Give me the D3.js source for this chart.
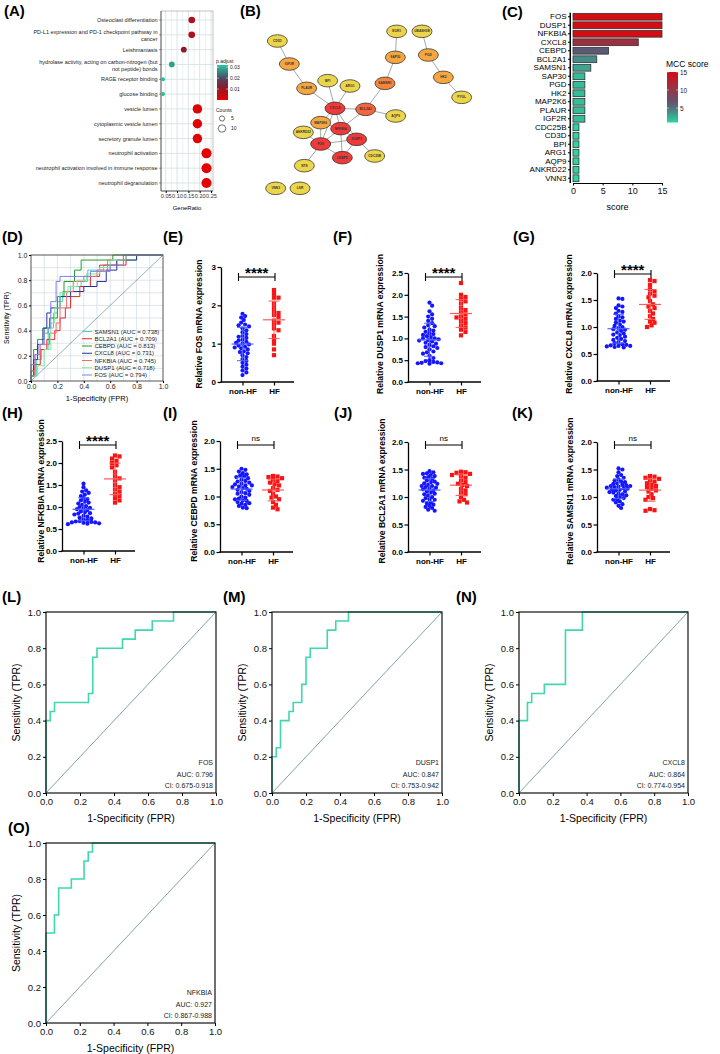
<!DOCTYPE html>
<html><head><meta charset="utf-8">
<script src="https://cdn.jsdelivr.net/npm/d3@7/dist/d3.min.js"></script>
<style>
html,body{margin:0;padding:0;background:#fff;}
svg{display:block;}
text{font-family:"Liberation Sans",Arial,Helvetica,sans-serif;}
</style></head>
<body>
<svg id="fig" width="720" height="1054" xmlns="http://www.w3.org/2000/svg"></svg>
<script>
// ================= DATA =================
// (A) enrichment
const goTerms = ["Osteoclast differentiation","PD-L1 expression and PD-1 checkpoint pathway in cancer","Leishmaniasis","hydrolase activity, acting on carbon-nitrogen (but not peptide) bonds","RAGE receptor binding","glucose binding","vesicle lumen","cytoplasmic vesicle lumen","secretory granule lumen","neutrophil activation","neutrophil activation involved in immune response","neutrophil degranulation"];
const goGeneRatio = [0.165,0.165,0.13,0.077,0.038,0.038,0.19,0.19,0.19,0.23,0.23,0.23];
const goCount = [8,8,6,6,3,3,16,16,16,18,18,18];
const goPadjust = [0.007,0.007,0.012,0.028,0.031,0.031,0.001,0.001,0.001,0.0004,0.0004,0.0004];
const goRatioTicks = [0.05,0.10,0.15,0.20,0.25];
const padjTicks = [0.01,0.02,0.03];
const countLegend = [5,10];

// (C) MCC scores
const mccGenes = ["FOS","DUSP1","NFKBIA","CXCL8","CEBPD","BCL2A1","SAMSN1","SAP30","PGD","HK2","MAP2K6","PLAUR","IGF2R","CDC25B","CD3D","BPI","ARG1","AQP9","ANKRD22","VNN3"];
const mccScore = [15,15,15,11,6,4,3,2,2,2,2,2,2,1,1,1,1,1,1,1];
const mccTicks = [0,5,10,15];
const mccLegendTicks = [5,10,15];

// (B) PPI network (layout units of the original network image)
const netGenes = ["CD3D","IGF2R","PLAUR","BPI","ARG1","CXCL8","BCL2A1","SAMSN1","SAP30","EGR1","UBASH3B","PGD","HK2","PYGL","AQP9","MAP2K6","NFKBIA","ANKRD22","FOS","DUSP1","CEBPD","CDC25B","NTS","VNN3","LSR"];
const netLayoutX = [112,148,200,263,330,285,377,435,466,470,546,565,610,665,467,242,302,190,242,350,307,404,193,107,180];
const netLayoutY = [123,192,265,242,258,325,328,250,172,94,94,165,232,292,348,368,386,397,432,418,473,468,497,565,565];
const netEdges = [["CD3D","IGF2R"],["IGF2R","PLAUR"],["PLAUR","CXCL8"],["BPI","CXCL8"],["ARG1","CXCL8"],["EGR1","SAP30"],["SAP30","SAMSN1"],["SAMSN1","BCL2A1"],["UBASH3B","PGD"],["PGD","HK2"],["HK2","PYGL"],["BCL2A1","AQP9"],["CXCL8","BCL2A1"],["CXCL8","MAP2K6"],["CXCL8","NFKBIA"],["CXCL8","FOS"],["CXCL8","DUSP1"],["BCL2A1","NFKBIA"],["MAP2K6","FOS"],["MAP2K6","NFKBIA"],["ANKRD22","FOS"],["NFKBIA","FOS"],["NFKBIA","DUSP1"],["NFKBIA","CEBPD"],["FOS","DUSP1"],["FOS","CEBPD"],["DUSP1","CEBPD"],["DUSP1","CDC25B"],["FOS","NTS"]];

// (D) multi-gene ROC curves [FPR, TPR]
const rocMultiGenes = ["SAMSN1","BCL2A1","CEBPD","CXCL8","NFKBIA","DUSP1","FOS"];
const rocMultiAUC = [0.738,0.709,0.813,0.731,0.745,0.718,0.794];
const rocD_SAMSN1 = [[0,0],[0,0.04],[0.04,0.04],[0.04,0.17],[0.08,0.17],[0.08,0.25],[0.13,0.25],[0.13,0.42],[0.17,0.42],[0.17,0.54],[0.2,0.54],[0.2,0.63],[0.24,0.63],[0.24,0.71],[0.3,0.71],[0.3,0.75],[0.38,0.75],[0.38,0.79],[0.43,0.79],[0.43,0.88],[0.55,0.88],[0.55,0.92],[0.65,0.92],[0.65,0.96],[0.8,0.96],[0.8,1],[1,1]];
const rocD_BCL2A1 = [[0,0],[0,0.04],[0.03,0.04],[0.03,0.13],[0.07,0.13],[0.07,0.25],[0.12,0.25],[0.12,0.33],[0.18,0.33],[0.18,0.4],[0.22,0.4],[0.22,0.5],[0.26,0.5],[0.26,0.58],[0.3,0.58],[0.3,0.67],[0.37,0.67],[0.37,0.75],[0.45,0.75],[0.45,0.83],[0.52,0.83],[0.52,0.92],[0.72,0.92],[0.72,1],[1,1]];
const rocD_CEBPD = [[0,0],[0,0.08],[0.02,0.08],[0.02,0.25],[0.05,0.25],[0.05,0.33],[0.1,0.33],[0.1,0.42],[0.14,0.42],[0.14,0.5],[0.2,0.5],[0.2,0.67],[0.25,0.67],[0.25,0.79],[0.33,0.79],[0.33,0.88],[0.38,0.88],[0.38,0.96],[0.62,0.96],[0.62,1],[1,1]];
const rocD_CXCL8 = [[0,0],[0,0.04],[0.02,0.04],[0.02,0.17],[0.05,0.17],[0.05,0.29],[0.09,0.29],[0.09,0.42],[0.12,0.42],[0.12,0.54],[0.15,0.54],[0.15,0.58],[0.22,0.58],[0.22,0.67],[0.3,0.67],[0.3,0.71],[0.4,0.71],[0.4,0.75],[0.5,0.75],[0.5,0.79],[0.57,0.79],[0.57,0.88],[0.65,0.88],[0.65,0.96],[0.8,0.96],[0.8,1],[1,1]];
const rocD_NFKBIA = [[0,0],[0,0.08],[0.03,0.08],[0.03,0.21],[0.07,0.21],[0.07,0.29],[0.14,0.29],[0.14,0.38],[0.19,0.38],[0.19,0.46],[0.22,0.46],[0.22,0.58],[0.27,0.58],[0.27,0.71],[0.32,0.71],[0.32,0.79],[0.4,0.79],[0.4,0.83],[0.5,0.83],[0.5,0.88],[0.58,0.88],[0.58,0.96],[0.7,0.96],[0.7,1],[1,1]];
const rocD_DUSP1 = [[0,0],[0,0.04],[0.05,0.04],[0.05,0.12],[0.1,0.12],[0.1,0.25],[0.15,0.25],[0.15,0.46],[0.18,0.46],[0.18,0.58],[0.22,0.58],[0.22,0.7],[0.28,0.7],[0.28,0.75],[0.35,0.75],[0.35,0.8],[0.42,0.8],[0.42,0.85],[0.52,0.85],[0.52,0.9],[0.6,0.9],[0.6,0.96],[0.72,0.96],[0.72,1],[1,1]];
const rocD_FOS = [[0,0],[0,0.13],[0.03,0.13],[0.03,0.21],[0.06,0.21],[0.06,0.29],[0.1,0.29],[0.1,0.38],[0.13,0.38],[0.13,0.42],[0.15,0.42],[0.15,0.63],[0.19,0.63],[0.19,0.79],[0.22,0.79],[0.22,0.83],[0.45,0.83],[0.45,0.87],[0.6,0.87],[0.6,0.92],[0.7,0.92],[0.7,1],[1,1]];
const rocAxisTicks = [0,0.2,0.4,0.6,0.8,1.0];

// (E-K) relative mRNA expression
const exprGroups = ["non-HF","HF"];
const exprGenes = ["FOS","DUSP1","CXCL8","NFKBIA","CEBPD","BCL2A1","SAMSN1"];
const exprSig = ["****","****","****","****","ns","ns","ns"];
const exprAxisMax = [3,2.5,2,2.5,2,2,2];
const exprAxisStep = [1,0.5,0.5,0.5,0.5,0.5,0.5];
const fosNonHF = [1.78,1.72,1.68,1.62,1.55,1.5,1.48,1.45,1.4,1.35,1.3,1.25,1.2,1.18,1.15,1.1,1.08,1.05,1.02,1.0,0.98,0.95,0.92,0.9,0.88,0.85,0.8,0.78,0.75,0.7,0.65,0.6,0.55,0.5,0.45,0.4,0.35,0.3,0.25,0.18];
const fosHF = [2.4,2.3,2.2,2.2,2.05,1.95,1.85,1.8,1.75,1.7,1.6,1.55,1.5,1.4,1.35,1.2,1.1,1.0,0.85,0.7];
const dusp1NonHF = [1.82,1.75,1.62,1.55,1.5,1.45,1.4,1.35,1.3,1.28,1.25,1.2,1.18,1.15,1.12,1.1,1.08,1.05,1.03,1.0,1.0,0.98,0.96,0.95,0.93,0.9,0.88,0.85,0.82,0.8,0.78,0.75,0.7,0.68,0.65,0.6,0.55,0.5,0.48,0.46,0.45,0.44,0.43,0.43,0.42];
const dusp1HF = [2.27,2.0,1.95,1.9,1.85,1.8,1.7,1.65,1.6,1.55,1.5,1.48,1.45,1.4,1.35,1.3,1.25,1.2,1.15,1.07];
const cxcl8NonHF = [1.53,1.52,1.4,1.38,1.35,1.3,1.28,1.25,1.2,1.18,1.15,1.12,1.1,1.08,1.05,1.02,1.0,0.98,0.96,0.95,0.93,0.9,0.88,0.86,0.85,0.82,0.8,0.78,0.76,0.74,0.72,0.7,0.68,0.67,0.66,0.65,0.65,0.64,0.63,0.62];
const cxcl8HF = [1.87,1.85,1.78,1.7,1.66,1.62,1.58,1.55,1.48,1.42,1.38,1.35,1.3,1.25,1.2,1.15,1.1,1.08,1.03,1.0];
const nfkbiaNonHF = [1.53,1.45,1.38,1.35,1.32,1.28,1.25,1.2,1.18,1.15,1.12,1.1,1.08,1.05,1.02,1.0,0.98,0.96,0.95,0.93,0.9,0.88,0.86,0.85,0.83,0.8,0.78,0.76,0.74,0.72,0.7,0.68,0.67,0.66,0.65,0.65,0.64,0.63,0.62,0.61];
const nfkbiaHF = [2.17,2.15,2.1,2.05,2.0,1.95,1.9,1.8,1.7,1.65,1.6,1.5,1.45,1.4,1.35,1.3,1.25,1.2,1.15,1.1];
const cebpdNonHF = [1.5,1.48,1.45,1.42,1.4,1.38,1.36,1.35,1.33,1.3,1.28,1.27,1.25,1.23,1.22,1.2,1.2,1.18,1.17,1.15,1.14,1.12,1.1,1.08,1.06,1.05,1.03,1.0,0.98,0.96,0.95,0.93,0.92,0.9,0.88,0.87,0.85,0.83,0.8,0.79];
const cebpdHF = [1.37,1.36,1.35,1.33,1.3,1.28,1.25,1.22,1.2,1.15,1.12,1.1,1.05,1.0,0.98,0.95,0.9,0.85,0.8,0.77];
const bcl2a1NonHF = [1.47,1.45,1.43,1.42,1.4,1.38,1.36,1.35,1.33,1.3,1.28,1.27,1.25,1.24,1.22,1.2,1.2,1.18,1.17,1.15,1.14,1.12,1.1,1.08,1.06,1.05,1.03,1.0,0.98,0.96,0.95,0.93,0.9,0.88,0.86,0.84,0.82,0.8,0.77,0.75];
const bcl2a1HF = [1.46,1.45,1.44,1.42,1.4,1.38,1.35,1.3,1.27,1.24,1.22,1.2,1.15,1.12,1.08,1.05,1.0,0.95,0.92,0.9];
const samsn1NonHF = [1.52,1.5,1.45,1.4,1.38,1.35,1.32,1.3,1.28,1.27,1.25,1.24,1.22,1.21,1.2,1.2,1.19,1.18,1.17,1.16,1.15,1.14,1.13,1.12,1.1,1.09,1.08,1.06,1.05,1.03,1.02,1.0,0.98,0.96,0.95,0.92,0.9,0.87,0.84,0.8];
const samsn1HF = [1.38,1.37,1.35,1.33,1.3,1.28,1.25,1.22,1.2,1.18,1.15,1.12,1.1,1.05,1.0,0.98,0.95,0.78,0.76,0.75];

// (L-O) single-gene ROC
const rocGenes = ["FOS","DUSP1","CXCL8","NFKBIA"];
const rocAUC = ["0.796","0.847","0.864","0.927"];
const rocCI = ["0.675-0.918","0.753-0.942","0.774-0.954","0.867-0.988"];
const roc_FOS = [[0,0],[0,0.4],[0.025,0.4],[0.025,0.45],[0.05,0.45],[0.05,0.5],[0.25,0.5],[0.25,0.55],[0.275,0.55],[0.275,0.75],[0.3,0.75],[0.3,0.8],[0.45,0.8],[0.45,0.85],[0.525,0.85],[0.525,0.9],[0.625,0.9],[0.625,0.95],[0.75,0.95],[0.75,1],[1,1]];
const roc_DUSP1 = [[0,0],[0,0.2],[0.025,0.2],[0.025,0.25],[0.05,0.25],[0.05,0.4],[0.1,0.4],[0.1,0.45],[0.125,0.45],[0.125,0.5],[0.175,0.5],[0.175,0.6],[0.2,0.6],[0.2,0.75],[0.225,0.75],[0.225,0.8],[0.325,0.8],[0.325,0.9],[0.375,0.9],[0.375,0.95],[0.45,0.95],[0.45,1],[1,1]];
const roc_CXCL8 = [[0,0],[0,0.4],[0.05,0.4],[0.05,0.5],[0.075,0.5],[0.075,0.55],[0.15,0.55],[0.15,0.6],[0.275,0.6],[0.275,0.9],[0.375,0.9],[0.375,1],[1,1]];
const roc_NFKBIA = [[0,0],[0,0.5],[0.05,0.5],[0.05,0.6],[0.075,0.6],[0.075,0.75],[0.15,0.75],[0.15,0.8],[0.225,0.8],[0.225,0.9],[0.25,0.9],[0.25,0.95],[0.275,0.95],[0.275,1],[1,1]];

// ================= DRAWING =================
const svg = d3.select("#fig");
svg.append("rect").attr("width",720).attr("height",1054).attr("fill","#fff");

function txt(g,x,y,s,o){ o=o||{};
  const t=g.append("text").attr("x",x).attr("y",y).text(s)
    .attr("font-size",o.size||8).attr("fill",o.fill||"#000");
  if(o.anchor) t.attr("text-anchor",o.anchor);
  if(o.weight) t.attr("font-weight",o.weight);
  if(o.rotate) t.attr("transform",`rotate(${o.rotate},${x},${y})`);
  return t;
}

// panel letters
const panelLetters = ["A","B","C","D","E","F","G","H","I","J","K","L","M","N","O"];
const letterPos = [[4,16],[240,16],[502,17],[2,242],[163,242],[333,242],[513,242],[2,418],[163,418],[334,418],[512,418],[2,602],[223,602],[456,602],[8,833]];
panelLetters.forEach((l,i)=>txt(svg,letterPos[i][0],letterPos[i][1],`(${l})`,{size:15,weight:"bold"}));

// ---------- (A) ----------
{
  const g = svg.append("g");
  const L=161,R=213,T=11,B=191;
  const x = d3.scaleLinear().domain([0.05,0.25]).range([165.7,211]);
  const y = d3.scalePoint().domain(goTerms).range([20,183]);
  const col = d3.scaleLinear().domain([0,0.012,0.02,0.032]).range(["#e60000","#8a1a2e","#4b4a66","#25c8a0"]);
  const r = d3.scaleSqrt().domain([0,18]).range([0,5]);
  d3.range(0.025,0.26,0.025).forEach((v,i)=>{
    if(x(v)>L && x(v)<R) g.append("line").attr("x1",x(v)).attr("x2",x(v)).attr("y1",T).attr("y2",B)
      .attr("stroke","#d2e0e0").attr("stroke-width",i%2?0.8:0.45);
  });
  goTerms.forEach(t=>g.append("line").attr("x1",L).attr("x2",R).attr("y1",y(t)).attr("y2",y(t)).attr("stroke","#d2e0e0").attr("stroke-width",0.8));
  g.append("rect").attr("x",L).attr("y",T).attr("width",R-L).attr("height",B-T).attr("fill","none").attr("stroke","#888").attr("stroke-width",0.5);
  g.append("line").attr("x1",L).attr("x2",L).attr("y1",T).attr("y2",B).attr("stroke","#333").attr("stroke-width",0.7);
  g.append("line").attr("x1",L).attr("x2",R).attr("y1",B).attr("y2",B).attr("stroke","#333").attr("stroke-width",0.7);
  g.selectAll("circle.go").data(goTerms).join("circle").attr("class","go")
    .attr("cx",(d,i)=>x(goGeneRatio[i])).attr("cy",d=>y(d)).attr("r",(d,i)=>r(goCount[i]))
    .attr("fill",(d,i)=>col(goPadjust[i]));
  const ax = g.append("g").attr("transform",`translate(0,${B})`)
    .call(d3.axisBottom(x).tickValues(goRatioTicks).tickFormat(d3.format(".2f")).tickSize(2).tickSizeOuter(0).tickPadding(1));
  ax.select(".domain").remove();
  ax.selectAll("text").attr("font-size",5.6).attr("fill","#333");
  txt(g,187,210,"GeneRatio",{size:6,anchor:"middle"});
  function wrap(s,w){const ws=s.split(" ");const out=[];let cur="";ws.forEach(wd=>{if(!cur)cur=wd;else if((cur+" "+wd).length<=w)cur+=" "+wd;else{out.push(cur);cur=wd;}});out.push(cur);return out;}
  goTerms.forEach(t=>{
    const lines=wrap(t,50); const yc=y(t);
    g.append("line").attr("x1",L-2).attr("x2",L).attr("y1",yc).attr("y2",yc).attr("stroke","#333").attr("stroke-width",0.5);
    lines.forEach((ln,k)=>{
      const off = lines.length===1?0:(k===0?-2.5:4.2);
      txt(g,157.5,yc+off+2,ln,{size:5.5,anchor:"end",fill:"#222"});
    });
  });
  // legend: p.adjust colorbar
  const yC = d3.scaleLinear().domain([0,0.032]).range([100,65]);
  const grad = svg.append("defs").append("linearGradient").attr("id","gradA").attr("x1",0).attr("x2",0).attr("y1",1).attr("y2",0);
  d3.range(0,1.001,0.1).forEach(f=>grad.append("stop").attr("offset",f).attr("stop-color",col(f*0.032)));
  txt(g,216,62.5,"p.adjust",{size:5,fill:"#222"});
  g.append("rect").attr("x",217).attr("y",65).attr("width",11).attr("height",35).attr("fill","url(#gradA)");
  padjTicks.forEach(v=>{
    g.append("line").attr("x1",217).attr("x2",219).attr("y1",yC(v)).attr("y2",yC(v)).attr("stroke","#fff").attr("stroke-width",0.5);
    g.append("line").attr("x1",226).attr("x2",228).attr("y1",yC(v)).attr("y2",yC(v)).attr("stroke","#fff").attr("stroke-width",0.5);
    txt(g,230,yC(v)+1.8,d3.format(".2f")(v),{size:5,fill:"#222"});
  });
  txt(g,216,112,"Counts",{size:5,fill:"#222"});
  countLegend.forEach((c,i)=>{
    const cy = i===0?118.5:128.5;
    g.append("circle").attr("cx",222).attr("cy",cy).attr("r",r(c)).attr("fill","none").attr("stroke","#111").attr("stroke-width",0.6);
    txt(g,231,cy+1.8,String(c),{size:5,fill:"#222"});
  });
}

// ---------- (B) network ----------
{
  const g = svg.append("g");
  const x = d3.scaleLinear().domain([0,750]).range([240,490]);
  const y = d3.scaleLinear().domain([0,585]).range([0,195]);
  const score = new Map(mccGenes.map((gn,i)=>[gn,mccScore[i]]));
  const fill = d3.scaleThreshold().domain([2,3,4,5]).range(["#ecd54a","#f5a640","#f5843d","#f2673e","#ef3a3a"]);
  const idx = new Map(netGenes.map((n,i)=>[n,i]));
  netEdges.forEach(([a,b])=>{
    const i=idx.get(a), j=idx.get(b);
    g.append("line").attr("x1",x(netLayoutX[i])).attr("y1",y(netLayoutY[i])).attr("x2",x(netLayoutX[j])).attr("y2",y(netLayoutY[j]))
      .attr("stroke","#6a6a6a").attr("stroke-width",0.6);
  });
  netGenes.forEach((n,i)=>{
    g.append("ellipse").attr("cx",x(netLayoutX[i])).attr("cy",y(netLayoutY[i])).attr("rx",10).attr("ry",6.3)
      .attr("fill",fill(score.get(n)||0)).attr("stroke","#222").attr("stroke-width",0.7);
    txt(g,x(netLayoutX[i]),y(netLayoutY[i])+1.1,n,{size:3.2,anchor:"middle",weight:"bold",fill:"#333"});
  });
}

// ---------- (C) MCC bars ----------
{
  const g = svg.append("g");
  const x = d3.scaleLinear().domain([0,15]).range([573,662]);
  const y = d3.scaleBand().domain(mccGenes).range([12.5,182.5]).paddingInner(0.2).paddingOuter(0.1);
  const col = d3.scaleLinear().domain([1,6,15]).range(["#2bd6a2","#5a5a75","#d50c14"]);
  g.selectAll("rect.bar").data(mccGenes).join("rect").attr("class","bar")
    .attr("x",x(0)).attr("y",d=>y(d)).attr("height",y.bandwidth())
    .attr("width",(d,i)=>x(mccScore[i])-x(0)).attr("fill",(d,i)=>col(mccScore[i]))
    .attr("stroke","#333").attr("stroke-width",0.8);
  const ay = g.append("g").attr("transform","translate(570,0)").call(d3.axisLeft(y).tickSize(2).tickPadding(1.5).tickSizeOuter(0));
  ay.select(".domain").attr("stroke","#000").attr("stroke-width",1);
  ay.selectAll("text").attr("font-size",8).attr("fill","#000");
  g.append("line").attr("x1",570).attr("x2",570).attr("y1",12.5).attr("y2",183).attr("stroke","#000").attr("stroke-width",1);
  const ax = g.append("g").attr("transform","translate(0,183)").call(d3.axisBottom(x).tickValues(mccTicks).tickSize(2.5).tickPadding(2).tickSizeOuter(0));
  ax.select(".domain").attr("stroke","#000").attr("stroke-width",1);
  ax.selectAll("text").attr("font-size",9).attr("fill","#111");
  txt(g,617.5,210,"score",{size:9,anchor:"middle"});
  const yL = d3.scaleLinear().domain([1,15]).range([122.5,72]);
  const grad = svg.append("defs").append("linearGradient").attr("id","gradC").attr("x1",0).attr("x2",0).attr("y1",1).attr("y2",0);
  d3.range(0,1.001,0.1).forEach(f=>grad.append("stop").attr("offset",f).attr("stop-color",col(1+14*f)));
  txt(g,666,67,"MCC score",{size:8.5});
  g.append("rect").attr("x",667).attr("y",72).attr("width",11).attr("height",50.5).attr("fill","url(#gradC)");
  mccLegendTicks.forEach(v=>{
    g.append("line").attr("x1",667).attr("x2",669).attr("y1",yL(v)).attr("y2",yL(v)).attr("stroke","#fff").attr("stroke-width",0.5);
    g.append("line").attr("x1",676).attr("x2",678).attr("y1",yL(v)).attr("y2",yL(v)).attr("stroke","#fff").attr("stroke-width",0.5);
    txt(g,680,yL(v)+2.5,String(v),{size:6.5,fill:"#222"});
  });
}

// ---------- (D) multi ROC ----------
{
  const g = svg.append("g");
  const L=31,R=163,T=255,B=381;
  const x = d3.scaleLinear().domain([0,1]).range([L,R]);
  const y = d3.scaleLinear().domain([0,1]).range([B,T]);
  const palette = ["#3fd9b5","#e4262b","#1e9e2a","#25348f","#f26b6b","#7fe89a","#8080f0"];
  const curves = [rocD_SAMSN1,rocD_BCL2A1,rocD_CEBPD,rocD_CXCL8,rocD_NFKBIA,rocD_DUSP1,rocD_FOS];
  d3.range(0.1,1,0.1).forEach(v=>{
    g.append("line").attr("x1",x(v)).attr("x2",x(v)).attr("y1",T).attr("y2",B).attr("stroke","#c8d5dd").attr("stroke-width",0.6);
    g.append("line").attr("x1",L).attr("x2",R).attr("y1",y(v)).attr("y2",y(v)).attr("stroke","#c8d5dd").attr("stroke-width",0.6);
  });
  g.append("line").attr("x1",x(0)).attr("y1",y(0)).attr("x2",x(1)).attr("y2",y(1)).attr("stroke","#7a9ea0").attr("stroke-width",0.8);
  const line = d3.line().x(d=>x(d[0])).y(d=>y(d[1]));
  curves.forEach((c,i)=>g.append("path").attr("d",line(c)).attr("fill","none").attr("stroke",palette[i]).attr("stroke-width",1));
  g.append("rect").attr("x",L).attr("y",T).attr("width",R-L).attr("height",B-T).attr("fill","none").attr("stroke","#555").attr("stroke-width",1);
  const ax = g.append("g").attr("transform",`translate(0,${B})`).call(d3.axisBottom(x).tickValues(rocAxisTicks).tickFormat(d3.format(".1f")).tickSize(2).tickPadding(1.5).tickSizeOuter(0));
  ax.select(".domain").remove(); ax.selectAll("text").attr("font-size",7).attr("fill","#222");
  const ay = g.append("g").attr("transform",`translate(${L},0)`).call(d3.axisLeft(y).tickValues(rocAxisTicks).tickFormat(d3.format(".1f")).tickSize(2).tickPadding(1.5).tickSizeOuter(0));
  ay.select(".domain").remove(); ay.selectAll("text").attr("font-size",7).attr("fill","#222");
  txt(g,(L+R)/2,401,"1-Specificity (FPR)",{size:7.5,anchor:"middle"});
  txt(g,9,(T+B)/2,"Sensitivity (TPR)",{size:7,anchor:"middle",rotate:-90});
  rocMultiGenes.forEach((gn,i)=>{
    const ly = 331.5+i*7.25;
    g.append("line").attr("x1",82).attr("x2",92).attr("y1",ly).attr("y2",ly).attr("stroke",palette[i]).attr("stroke-width",1);
    txt(g,94.5,ly+2,`${gn} (AUC = ${rocMultiAUC[i].toFixed(3)})`,{size:6,fill:"#222"});
  });
}

// ---------- (E-K) dot plots ----------
{
  const exprNon = [fosNonHF,dusp1NonHF,cxcl8NonHF,nfkbiaNonHF,cebpdNonHF,bcl2a1NonHF,samsn1NonHF];
  const exprHF = [fosHF,dusp1HF,cxcl8HF,nfkbiaHF,cebpdHF,bcl2a1HF,samsn1HF];
  const lay = [
    {x0:221,y0:382,yTop:267,br:277,lx:202,ly:324},
    {x0:408,y0:382,yTop:273,br:277,lx:383,ly:324},
    {x0:597,y0:381,yTop:273,br:274,lx:572,ly:324},
    {x0:62, y0:551,yTop:441,br:445,lx:44, ly:491},
    {x0:220,y0:552,yTop:441,br:445,lx:197,ly:491},
    {x0:408,y0:552,yTop:442,br:445,lx:385,ly:491},
    {x0:597,y0:552,yTop:442,br:445,lx:573,ly:491}];
  function swarm(vals,y,d,step){
    const pts = vals.map(v=>({v,py:y(v)})).sort((a,b)=>a.py-b.py);
    const placed=[];
    pts.forEach(p=>{
      let k=0,off=0;
      while(k<80){
        off = k===0?0:((k%2===1)?1:-1)*Math.ceil(k/2)*step;
        if(placed.every(q=>(q.off-off)**2+(q.py-p.py)**2>=d*d)) break;
        k++;
      }
      p.off=off; placed.push(p);
    });
    return pts;
  }
  exprGenes.forEach((gene,i)=>{
    const c = lay[i]; const g = svg.append("g");
    const y = d3.scaleLinear().domain([0,exprAxisMax[i]]).range([c.y0,c.yTop]);
    const xc = d3.scalePoint().domain(exprGroups).range([c.x0+21.5,c.x0+53]);
    const ticks = d3.range(0,exprAxisMax[i]+1e-9,exprAxisStep[i]);
    const ay = g.append("g").attr("transform",`translate(${c.x0},0)`)
      .call(d3.axisLeft(y).tickValues(ticks).tickFormat(exprAxisStep[i]===1?d3.format("d"):d3.format(".1f")).tickSize(3.5).tickPadding(1.5).tickSizeOuter(0));
    ay.select(".domain").attr("stroke","#000").attr("stroke-width",1.3);
    ay.selectAll(".tick line").attr("stroke-width",1.2);
    ay.selectAll("text").attr("font-size",8).attr("font-weight","bold").attr("fill","#000");
    g.append("line").attr("x1",c.x0-0.6).attr("x2",c.x0+73).attr("y1",c.y0).attr("y2",c.y0).attr("stroke","#000").attr("stroke-width",1.3);
    const ax = g.append("g").attr("transform",`translate(0,${c.y0})`).call(d3.axisBottom(xc).tickSize(3.5).tickPadding(2.5).tickSizeOuter(0));
    ax.select(".domain").remove();
    ax.selectAll(".tick line").attr("stroke-width",1.2);
    ax.selectAll("text").attr("font-size",8).attr("font-weight","bold").attr("fill","#000");
    txt(g,c.lx,c.ly,`Relative ${gene} mRNA expression`,{size:8.6,weight:"bold",anchor:"middle",rotate:-90});
    // points
    const nb = swarm(exprNon[i],y,3.4,1.3);
    g.selectAll("circle.nb").data(nb).join("circle").attr("class","nb")
      .attr("cx",d=>xc("non-HF")+d.off).attr("cy",d=>d.py).attr("r",2.1).attr("fill","#1515ff");
    const hb = swarm(exprHF[i],y,3.8,1.5);
    g.selectAll("rect.hb").data(hb).join("rect").attr("class","hb")
      .attr("x",d=>xc("HF")+d.off-2.1).attr("y",d=>d.py-2.1).attr("width",4.2).attr("height",4.2).attr("fill","#f51515");
    // mean ± SD
    [[exprNon[i],"non-HF","#4a66ff"],[exprHF[i],"HF","#ff5a5a"]].forEach(([vals,grp,cl])=>{
      const m=d3.mean(vals), s=d3.deviation(vals), cx=xc(grp);
      g.append("line").attr("x1",cx-11).attr("x2",cx+11).attr("y1",y(m)).attr("y2",y(m)).attr("stroke",cl).attr("stroke-width",1.2);
      g.append("line").attr("x1",cx).attr("x2",cx).attr("y1",y(m-s)).attr("y2",y(m+s)).attr("stroke",cl).attr("stroke-width",1);
      [m-s,m+s].forEach(v=>g.append("line").attr("x1",cx-5.5).attr("x2",cx+5.5).attr("y1",y(v)).attr("y2",y(v)).attr("stroke",cl).attr("stroke-width",1));
    });
    // bracket
    const bx1 = xc("non-HF")-4, bx2 = xc("HF")+1;
    g.append("path").attr("d",`M${bx1},${c.br-4}V${c.br+4}M${bx1},${c.br}H${bx2}M${bx2},${c.br-4}V${c.br+4}`)
      .attr("stroke","#000").attr("stroke-width",1.1).attr("fill","none");
    if(exprSig[i]==="ns") txt(g,(bx1+bx2)/2,c.br-4,"ns",{size:8,anchor:"middle"});
    else txt(g,(bx1+bx2)/2,c.br+0.5,exprSig[i],{size:15,weight:"bold",anchor:"middle"});
  });
}

// ---------- (L-O) single ROC ----------
{
  const curves = [roc_FOS,roc_DUSP1,roc_CXCL8,roc_NFKBIA];
  const boxes = [{L:46,R:216,T:612,B:793},{L:272,R:442,T:612,B:793},{L:519,R:688,T:612,B:793},{L:46,R:215,T:843,B:1023}];
  curves.forEach((cv,i)=>{
    const b = boxes[i]; const g = svg.append("g");
    const x = d3.scaleLinear().domain([0,1]).range([b.L,b.R]);
    const y = d3.scaleLinear().domain([0,1]).range([b.B,b.T]);
    g.append("line").attr("x1",x(0)).attr("y1",y(0)).attr("x2",x(1)).attr("y2",y(1)).attr("stroke","#6f9a9c").attr("stroke-width",0.9);
    g.append("path").attr("d",d3.line().x(d=>x(d[0])).y(d=>y(d[1]))(cv)).attr("fill","none").attr("stroke","#3fd8ae").attr("stroke-width",1.6);
    g.append("rect").attr("x",b.L).attr("y",b.T).attr("width",b.R-b.L).attr("height",b.B-b.T).attr("fill","none").attr("stroke","#111").attr("stroke-width",1.2);
    const ax = g.append("g").attr("transform",`translate(0,${b.B})`).call(d3.axisBottom(x).tickValues(rocAxisTicks).tickFormat(d3.format(".1f")).tickSize(3).tickPadding(2).tickSizeOuter(0));
    ax.select(".domain").remove(); ax.selectAll("text").attr("font-size",9.5).attr("fill","#111");
    const ay = g.append("g").attr("transform",`translate(${b.L},0)`).call(d3.axisLeft(y).tickValues(rocAxisTicks).tickFormat(d3.format(".1f")).tickSize(3).tickPadding(2).tickSizeOuter(0));
    ay.select(".domain").remove(); ay.selectAll("text").attr("font-size",9.5).attr("fill","#111");
    txt(g,(b.L+b.R)/2,b.B+29,"1-Specificity (FPR)",{size:10.5,anchor:"middle"});
    txt(g,b.L-26,(b.T+b.B)/2,"Sensitivity (TPR)",{size:10.5,anchor:"middle",rotate:-90});
    txt(g,b.R-3,b.B-28,rocGenes[i],{size:7,anchor:"end",fill:"#222"});
    txt(g,b.R-3,b.B-16.5,`AUC: ${rocAUC[i]}`,{size:7,anchor:"end",fill:"#222"});
    txt(g,b.R-3,b.B-5,`CI: ${rocCI[i]}`,{size:7,anchor:"end",fill:"#222"});
  });
}
</script>
</body></html>
